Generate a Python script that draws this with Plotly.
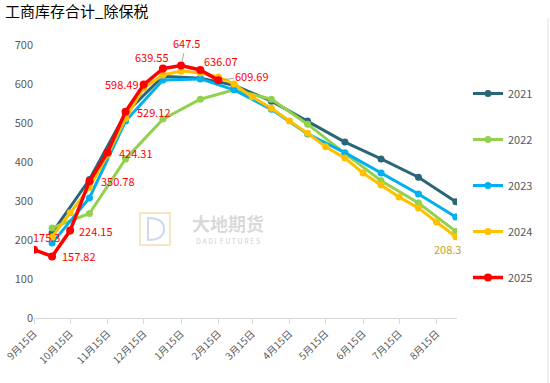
import plotly.graph_objects as go

# ---------------- data ----------------
dates_2025 = ["2024-09-15", "2024-09-30", "2024-10-15", "2024-10-31", "2024-11-15", "2024-11-30",
              "2024-12-15", "2024-12-31", "2025-01-15", "2025-01-31", "2025-02-15"]
vals_2025 = [175.3, 157.82, 224.15, 350.78, 424.31, 529.12, 598.49, 639.55, 647.5, 636.07, 609.69]

dates_monthly = ["2024-09-30", "2024-10-31", "2024-11-30", "2024-12-31", "2025-01-31", "2025-02-28",
                 "2025-03-31", "2025-04-30", "2025-05-31", "2025-06-30", "2025-07-31", "2025-08-31"]
vals_2021 = [218, 355, 525, 620, 615, 597, 556, 505, 451, 408, 361, 298]
vals_2022 = [231, 268, 408, 510, 561, 585, 561, 497, 422, 352, 295, 222]
vals_2023 = [192, 308, 505, 610, 613, 585, 535, 472, 424, 372, 318, 259]

dates_2024 = ["2024-09-30", "2024-10-15", "2024-10-31", "2024-11-15", "2024-11-30", "2024-12-15",
              "2024-12-31", "2025-01-15", "2025-01-31", "2025-02-15", "2025-02-28", "2025-03-15",
              "2025-03-31", "2025-04-15", "2025-04-30", "2025-05-15", "2025-05-31", "2025-06-15",
              "2025-06-30", "2025-07-15", "2025-07-31", "2025-08-15", "2025-08-31"]
vals_2024 = [208, 270, 335, 418, 512, 590, 623, 633, 628, 618, 600, 567, 538, 505, 474, 439,
             410, 372, 341, 310, 282, 246, 208.3]

tick_dates = ["2024-09-15", "2024-10-15", "2024-11-15", "2024-12-15", "2025-01-15", "2025-02-15",
              "2025-03-15", "2025-04-15", "2025-05-15", "2025-06-15", "2025-07-15", "2025-08-15"]
tick_text = ["9月15日", "10月15日", "11月15日", "12月15日", "1月15日", "2月15日",
             "3月15日", "4月15日", "5月15日", "6月15日", "7月15日", "8月15日"]

FONT = "Noto Sans CJK SC"

series = [
    ("2021", dates_monthly, vals_2021, "#2B6678", 3, 7),
    ("2022", dates_monthly, vals_2022, "#92D050", 3, 7),
    ("2023", dates_monthly, vals_2023, "#00B0F0", 3, 7),
    ("2024", dates_2024, vals_2024, "#FFC000", 3, 7),
    ("2025", dates_2025, vals_2025, "#FF0000", 3.5, 8),
]

fig = go.Figure()
for name, xs, ys, col, lw, ms in series:
    fig.add_trace(go.Scatter(
        x=xs, y=ys, name=name, mode="lines+markers",
        line=dict(color=col, width=lw),
        marker=dict(color=col, size=ms),
        legendgroup=name,
    ))

# red data labels: (dx, dy) pixel offsets of label centre from point
offsets_2025 = [(12, 13), (27, 0), (26, 0), (29, 0), (28, 0), (28, 0),
                (-22, 1), (-11, 12), None, (21, 9), None]
for d, v, off in zip(dates_2025, vals_2025, offsets_2025):
    if off is None:
        continue
    fig.add_annotation(x=d, y=v, text=f"{v:g}", showarrow=False, xshift=off[0], yshift=off[1],
                       font=dict(family=FONT, size=11, color="#FF0000"))

# labels with leader lines
fig.add_annotation(x=dates_2025[8], y=vals_2025[8], text=f"{vals_2025[8]:g}", showarrow=True,
                   ax=5, ay=-22, arrowhead=0, arrowwidth=1, arrowcolor="#A6A6A6", standoff=4,
                   font=dict(family=FONT, size=11, color="#FF0000"))
fig.add_annotation(x=dates_2025[10], y=vals_2025[10], text=f"{vals_2025[10]:g}", showarrow=True,
                   ax=34, ay=-4, arrowhead=0, arrowwidth=1, arrowcolor="#A6A6A6", standoff=4,
                   font=dict(family=FONT, size=11, color="#FF0000"))

# 2024 last label
fig.add_annotation(x=dates_2024[-1], y=vals_2024[-1], text=f"{vals_2024[-1]:g}", showarrow=False,
                   xshift=-8, yshift=-12, font=dict(family=FONT, size=11, color="#C9A020"))

# watermark
fig.add_annotation(xref="paper", yref="paper", x=(228 - 34) / 423, y=(318 - 223) / 273,
                   text="<b>大地期货</b>", showarrow=False,
                   font=dict(family=FONT, size=18, color="rgba(170,170,170,0.45)"))
fig.add_annotation(xref="paper", yref="paper", x=(228 - 34) / 423, y=(318 - 248) / 273,
                   text="D A D I  F U T U R E S", showarrow=False,
                   font=dict(family=FONT, size=7, color="rgba(160,160,160,0.55)"))
fig.add_shape(type="rect", xref="paper", yref="paper",
              x0=(140 - 34) / 423, x1=(170 - 34) / 423, y0=(318 - 245) / 273, y1=(318 - 213) / 273,
              line=dict(color="rgba(235,215,160,0.6)", width=2), fillcolor="rgba(0,0,0,0)")
fig.add_shape(type="path", xref="paper", yref="paper",
              path="M {a},{b} L {a},{c} Q {d},{c} {d},{e} Q {d},{b} {a},{b} Z".format(
                  a=(148 - 34) / 423, b=(318 - 240) / 273, c=(318 - 218) / 273,
                  d=(164 - 34) / 423, e=(318 - 229) / 273),
              line=dict(color="rgba(150,180,220,0.5)", width=2), fillcolor="rgba(0,0,0,0)")

# right border line
fig.add_shape(type="line", xref="paper", yref="paper",
              x0=(548 - 34) / 423, x1=(548 - 34) / 423, y0=-0.25, y1=1.1,
              line=dict(color="#E0E0E0", width=1))

fig.update_layout(
    width=550, height=383,
    margin=dict(l=34, r=93, t=45, b=65, autoexpand=False),
    paper_bgcolor="white", plot_bgcolor="white",
    font=dict(family=FONT, color="#595959"),
    title=dict(text="工商库存合计_除保税", x=5 / 550, xanchor="left", y=1 - 12 / 383, yanchor="middle",
               font=dict(family=FONT, size=15, color="#000000")),
    showlegend=True,
    legend=dict(xref="container", yref="container", x=468 / 550, xanchor="left",
                y=1 - 79 / 383, yanchor="top", tracegroupgap=27, maxheight=330,
                font=dict(family=FONT, size=11, color="#595959"),
                bgcolor="rgba(0,0,0,0)"),
)
fig.update_xaxes(type="date", range=["2024-09-15", "2025-09-01"], automargin=False,
                 tickvals=tick_dates, ticktext=tick_text, tickangle=-45,
                 tickfont=dict(family=FONT, size=10, color="#595959"),
                 showgrid=False, zeroline=False, showline=True, linecolor="#D9D9D9", linewidth=1,
                 ticks="outside", ticklen=5, tickcolor="#D9D9D9")
fig.update_yaxes(range=[0, 700], dtick=100, showgrid=False, zeroline=False, showline=False,
                 automargin=False,
                 tickfont=dict(family=FONT, size=11, color="#595959"))

fig.write_html("out.html", config={"displayModeBar": False},
               post_script="document.body.style.margin='0';")
